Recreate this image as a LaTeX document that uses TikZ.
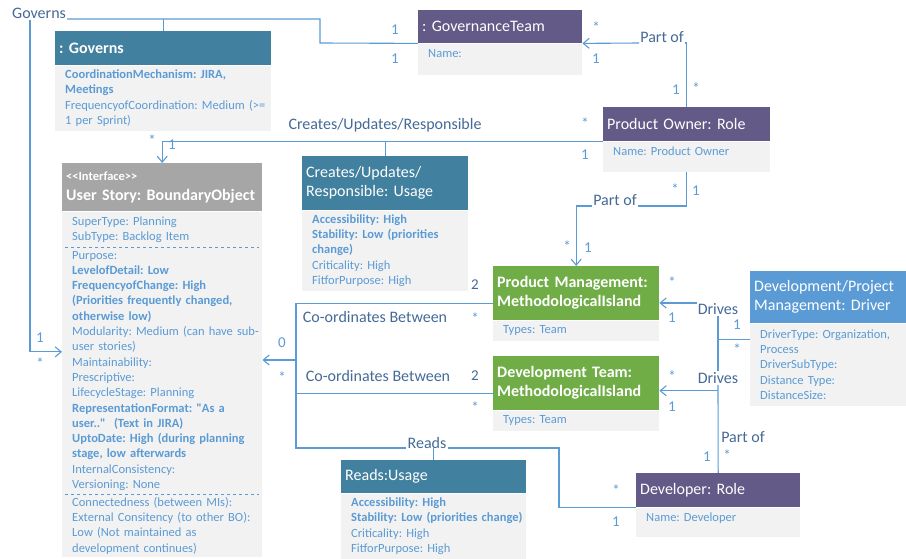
\documentclass[tikz,border=0pt]{standalone}
\usepackage{fontspec}
\setmainfont{Carlito}[Ligatures=TeXOff]
\usepackage{tikz}
\usetikzlibrary{positioning}
\usetikzlibrary{arrows.meta}
\usepackage{xcolor}
\frenchspacing

\definecolor{rolecol}{RGB}{99,90,135}
\definecolor{usagecol}{RGB}{65,128,158}
\definecolor{islandcol}{RGB}{112,173,71}
\definecolor{drivercol}{RGB}{91,155,213}
\definecolor{bocol}{RGB}{166,166,166}
\definecolor{bodycol}{RGB}{242,242,242}
\definecolor{linecol}{RGB}{91,155,213}
\definecolor{assoccol}{RGB}{68,106,150}

\begin{document}
\begin{tikzpicture}[x=1pt, y=-1pt, >={Straight Barb[length=6pt, width=10pt]},
    head/.style={anchor=north west, text=white, inner xsep=4pt, inner ysep=0pt, align=left, font=\fontsize{16}{19}\selectfont},
    bhead/.style={head, font=\fontsize{16}{19}\selectfont\bfseries},
    body/.style={anchor=north west, fill=bodycol, text=linecol, inner xsep=4pt, inner ysep=3pt, align=left,
        font=\fontsize{12.5}{15.3}\selectfont,
        execute at begin node={\leftskip=6pt\rightskip=0pt plus 1fil minus 30pt\relax}},
    oneline/.style={text height=10pt, text depth=#1, inner ysep=4pt},
    link/.style={draw=linecol, line width=1.1pt},
    assoc/.style={text=assoccol, font=\fontsize{16}{19}\selectfont, inner sep=1pt, fill=white},
    mult/.style={text=linecol, font=\fontsize{15}{18}\selectfont, inner sep=0pt}]

    \useasboundingbox (0,0) rectangle (906,559);

    % classes
    \node[bhead, fill=usagecol, text width=208pt, minimum height=34pt] (gov) at (55,31) {: Governs};
    \node[body, text width=208pt, minimum height=65pt] (govb) at (gov.south west)
        {\textbf{CoordinationMechanism: JIRA,}\\ \textbf{Meetings}\\ FrequencyofCoordination: Medium (>=\\ 1 per Sprint)};

    \node[head, fill=rolecol, text width=156pt, minimum height=33pt] (gt) at (418,10) {: GovernanceTeam};
    \node[body, oneline=13pt, text width=156pt] (gtb) at (gt.south west) {Name:};

    \node[head, fill=rolecol, text width=159pt, minimum height=34pt] (po) at (603,107) {Product Owner: Role};
    \node[body, oneline=12pt, text width=159pt] (pob) at (po.south west) {Name: Product Owner};

    \node[head, fill=usagecol, text width=158pt, minimum height=54pt] (cu) at (302,156) {Creates/Updates/\\ Responsible: Usage};
    \node[body, text width=158pt, minimum height=80pt] (cub) at (cu.south west)
        {\textbf{Accessibility: High}\\ \textbf{Stability: Low (priorities}\\ \textbf{change)}\\ Criticality: High\\ FitforPurpose: High};

    \node[bhead, fill=bocol, text width=192pt, minimum height=48pt] (us) at (62,163)
        {{\fontsize{12.5}{14}\selectfont <<Interface>>}\\[1pt] User Story: BoundaryObject};
    \node[body, text width=192pt, minimum height=36pt] (usb1) at (us.south west) {SuperType: Planning\\ SubType: Backlog Item};
    \node[body, text width=192pt, minimum height=244pt] (usb2) at (usb1.south west)
        {Purpose:\\
         \textbf{LevelofDetail: Low}\\
         \textbf{FrequencyofChange: High}\\
         \textbf{(Priorities frequently changed,}\\
         \textbf{otherwise low)}\\
         Modularity: Medium (can have sub-\\
         user stories)\\
         Maintainability:\\
         Prescriptive:\\
         LifecycleStage: Planning\\
         \textbf{RepresentationFormat: "As a}\\
         \textbf{user.."\ \ (Text in JIRA)}\\
         \textbf{UptoDate: High (during planning}\\
         \textbf{stage, low afterwards}\\
         InternalConsistency:\\
         Versioning: None};
    \node[body, text width=192pt, minimum height=62pt] (usb3) at (usb2.south west)
        {Connectedness (between MIs):\\ External Consitency (to other BO):\\ Low (Not maintained as\\ development continues)};
    \draw[linecol, dashed, line width=0.6pt] ([xshift=3pt]usb1.south west) -- ([xshift=-3pt]usb1.south east);
    \draw[linecol, dashed, line width=0.6pt] ([xshift=3pt]usb2.south west) -- ([xshift=-3pt]usb2.south east);

    \node[bhead, fill=islandcol, text width=158pt, minimum height=54pt] (pm) at (493,266) {Product Management:\\ MethodologicalIsland};
    \node[body, text width=158pt, minimum height=20pt] (pmb) at (pm.south west) {Types: Team};

    \node[bhead, fill=islandcol, text width=158pt, minimum height=54pt] (dt) at (493,356) {Development Team:\\ MethodologicalIsland};
    \node[body, text width=158pt, minimum height=20pt] (dtb) at (dt.south west) {Types: Team};

    \node[head, fill=drivercol, text width=152pt, minimum height=52pt] (drv) at (750,271) {Development/Project\\ Management: Driver};
    \node[body, text width=152pt, minimum height=82pt] (drvb) at (drv.south west)
        {DriverType: Organization,\\ Process\\ DriverSubType:\\ Distance Type:\\ DistanceSize:};

    \node[head, fill=rolecol, text width=156pt, minimum height=34pt] (dev) at (636,473) {Developer: Role};
    \node[body, oneline=11pt, text width=156pt] (devb) at (dev.south west) {Name: Developer};

    \node[head, fill=usagecol, text width=177pt, minimum height=33pt] (ru) at (341,460) {Reads:Usage};
    \node[body, text width=177pt, minimum height=65pt] (rub) at (ru.south west)
        {\textbf{Accessibility: High}\\ \textbf{Stability: Low (priorities change)}\\ Criticality: High\\ FitforPurpose: High};

    % association names
    \node[assoc, anchor=base west] (govl) at (11,19) {Governs};
    \node[assoc, anchor=base east] (pol1) at (685,43) {Part of};
    \node[assoc, anchor=base] (cul) at (385,130) {Creates/Updates/Responsible};
    \node[assoc, anchor=base] (pol2) at (615,206) {Part of};
    \node[assoc, fill=none] (cb1) at (375,317) {Co-ordinates Between};
    \node[assoc, fill=none] (cb2) at (378,376) {Co-ordinates Between};
    \node[assoc, anchor=base] (rdl) at (427,448) {Reads};
    \node[assoc] (dr1) at (718,309) {Drives};
    \node[assoc] (dr2) at (718,378) {Drives};
    \node[assoc, fill=none] (pol3) at (743,437) {Part of};

    % connectors
    \coordinate (gvk) at (320,43);
    \draw[link] (govl.base east) -| (gvk) -- (gt.south west);
    \draw[link] (gov.north) -- (gov.north |- govl.base east);
    \draw[link, ->] ([xshift=19pt]govl.south west) |- ([yshift=19pt]usb2.west);

    \draw[link] (po.north) |- (pol1.base east);
    \draw[link, ->] (pol1.base west) -- (gt.south east);

    \draw[link, ->] (po.south west) -| (us.north);
    \draw[link] (cu.north) -- (cu.north |- po.south west);

    \draw[link] (pob.south) |- (pol2.base east);
    \draw[link, ->] (pol2.base west) -| (pm.north);

    \coordinate (cbk) at (296,360);
    \draw[link] ([yshift=-10pt]pm.west) -| (cbk);
    \draw[link] ([yshift=-10pt]dt.west) -| (cbk);
    \draw[link, ->] (cbk) -- (cbk -| usb2.east);

    \coordinate (rdk) at (559,448);
    \draw[link] (cbk) |- (rdl.base west);
    \draw[link] (rdl.base east) -- (rdk) |- (dev.south west);
    \draw[link] (ru.north) -- (ru.north |- rdk);

    \draw[link] ([yshift=25pt]drvb.west) -- ([yshift=25pt]drvb.west -| dr1.south);
    \draw[link] (dr1.south) -- (dr2.north);
    \draw[link, ->] ([yshift=6pt]dr1.west) -- ([yshift=6pt]dr1.west -| pm.east);
    \draw[link, ->] ([yshift=-6pt]dr2.south) -- ([yshift=-6pt]dr2.south -| dt.east);
    \draw[link] (dr2.south) -- (dev.north);

    % multiplicities
    \foreach \x/\y/\m [count=\i] in {395/30/1, 395/59/1, 596/27/*, 596/59/1, 676/90/1, 696/88/*,
        585/123/*, 585/155/1, 675/189/*, 696/191/1, 567/246/*, 588/248/1, 152/140/*, 172/145/1,
        40/338/1, 40/363/*, 282/343/0, 282/377/*, 475/318/*, 475/407/*, 672/282/*, 672/318/1,
        737/325/1, 737/349/*, 672/376/*, 672/407/1, 707/457/1, 727/455/*, 616/490/*, 616/522/1}
        \node[mult] (m\i) at (\x,\y) {\m};
    \node[mult, text=assoccol] (two1) at (475,285) {2};
    \node[mult, text=assoccol] (two2) at (475,376) {2};
\end{tikzpicture}
\end{document}
